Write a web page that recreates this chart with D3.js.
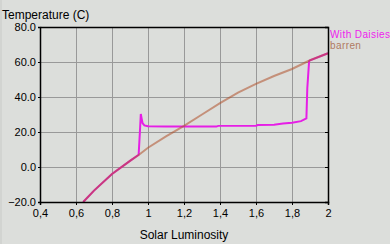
<!DOCTYPE html>
<html lang="en">
  <head>
    <meta charset="UTF-8" />
    <title>Daisyworld temperature</title>
    <script src="https://d3js.org/d3.v7.min.js"></script>
    <style>
      html, body { margin: 0; padding: 0; background: #dcdedb; }
      svg { display: block; font-family: "Liberation Sans", Arial, sans-serif; }
      .grid line { stroke: #999999; stroke-width: 1; }
      .axis text { font-size: 11px; fill: #000; }
    </style>
  </head>
  <body></body>
  <script type="text/javascript">
    var width = 390,
      height = 244;
    var margin = { top: 27, right: 62, bottom: 42, left: 40 };

    // tick labels
    var xTicks = [0.4, 0.6, 0.8, 1.0, 1.2, 1.4, 1.6, 1.8, 2.0];
    var xTickLabels = ['0,4', '0,6', '0,8', '1', '1,2', '1,4', '1,6', '1,8', '2'];
    var yTicks = [-20, 0, 20, 40, 60, 80];

    // barren planet temperature
    var barrenLum = [0.64, 0.7, 0.8, 0.9, 0.95, 1.0, 1.1, 1.2, 1.3, 1.4, 1.5, 1.6, 1.7, 1.8, 1.9, 2.0];
    var barrenTemp = [-20, -13.5, -4, 3.5, 7, 11, 17.5, 23.5, 30, 36.5, 42.5, 47.5, 52, 56, 61, 65];

    // with daisies
    var daisyLum = [0.64, 0.7, 0.8, 0.9, 0.948, 0.955, 0.96, 0.965, 0.97, 0.98, 1.0, 1.1, 1.2, 1.3, 1.38, 1.39, 1.6, 1.61, 1.7, 1.75, 1.8, 1.85, 1.88, 1.885, 1.895, 1.9, 2.0];
    var daisyTemp = [-20, -13.5, -4, 3.5, 7, 20, 30.3, 27.5, 25, 23.8, 23.3, 23.2, 23.1, 23.1, 23.1, 23.5, 23.6, 24, 24.2, 24.8, 25.3, 26.2, 27.8, 45, 60.5, 61, 65];

    var x = d3.scaleLinear().domain([0.4, 2]).range([margin.left, width - margin.right]);
    var y = d3.scaleLinear().domain([-20, 80]).range([height - margin.bottom, margin.top]);

    var svg = d3.select('body').append('svg').attr('width', width).attr('height', height);

    // darker strip on the left edge
    svg.append('rect').attr('x', 0).attr('y', 0).attr('width', 2).attr('height', height).attr('fill', '#d2d4d1');

    // grid
    var grid = svg.append('g').attr('class', 'grid');
    grid.selectAll('.gx').data(xTicks).enter().append('line')
      .attr('x1', d => Math.round(x(d)) + 0.5).attr('x2', d => Math.round(x(d)) + 0.5)
      .attr('y1', y(80)).attr('y2', y(-20));
    grid.selectAll('.gy').data(yTicks).enter().append('line')
      .attr('x1', x(0.4)).attr('x2', x(2))
      .attr('y1', d => Math.round(y(d)) + 0.5).attr('y2', d => Math.round(y(d)) + 0.5);

    // lines
    var barrenData = barrenLum.map((l, i) => ({ l: l, t: barrenTemp[i] }));
    var daisyData = daisyLum.map((l, i) => ({ l: l, t: daisyTemp[i] }));
    var line = d3.line().x(d => x(d.l)).y(d => y(d.t));

    svg.append('path').attr('d', line(daisyData))
      .attr('fill', 'none').attr('stroke', '#e61ee6').attr('stroke-width', 2);
    svg.append('path').attr('d', line(barrenData))
      .attr('fill', 'none').attr('stroke', '#b0502a').attr('stroke-opacity', 0.55).attr('stroke-width', 2);

    // axes
    var xAxis = d3.axisBottom(x).tickValues(xTicks).tickFormat((d, i) => xTickLabels[i]).tickSize(3).tickPadding(4);
    var yAxis = d3.axisLeft(y).tickValues(yTicks).tickFormat(d3.format('.1f')).tickSize(2).tickPadding(2);
    var yRight = d3.axisLeft(y).tickValues(yTicks).tickFormat('').tickSize(3);
    var xTop = d3.axisBottom(x).tickValues([]).tickSize(0);

    svg.append('g').attr('class', 'axis').attr('transform', 'translate(0,' + (height - margin.bottom) + ')').call(xAxis);
    svg.append('g').attr('class', 'axis').attr('transform', 'translate(' + margin.left + ',0)').call(yAxis);
    svg.append('g').attr('class', 'axis').attr('transform', 'translate(' + (width - margin.right) + ',0)').call(yRight);
    svg.append('g').attr('class', 'axis').attr('transform', 'translate(0,' + margin.top + ')').call(xTop);
    svg.selectAll('.axis path.domain').attr('stroke', '#000').attr('stroke-width', 1.5);
    svg.selectAll('.axis .tick line').attr('stroke', '#000');

    // titles
    svg.append('text').attr('x', 2).attr('y', 18.5).attr('font-size', 12).text('Temperature (C)');
    svg.append('text').attr('x', (x(0.4) + x(2)) / 2).attr('y', 239).attr('text-anchor', 'middle')
      .attr('font-size', 12).text('Solar Luminosity');

    // legend
    svg.append('text').attr('x', 330).attr('y', 37.5).attr('font-size', 10).attr('letter-spacing', 0.4)
      .attr('fill', '#ee22ee').text('With Daisies');
    svg.append('text').attr('x', 330).attr('y', 48.5).attr('font-size', 10).attr('letter-spacing', 0.4)
      .attr('fill', '#b07a62').text('barren');
  </script>
</html>
